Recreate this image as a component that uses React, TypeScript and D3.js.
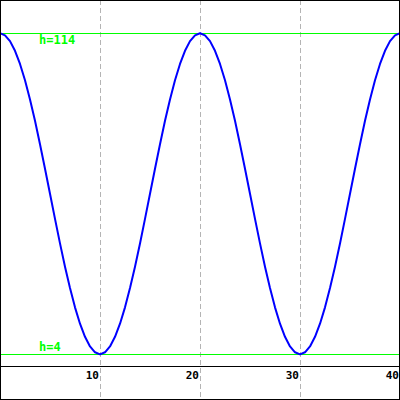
import React from 'react';
import * as d3 from 'd3';

// x values every half step from 0 to 40
const xs: number[] = d3.range(0, 40.5, 0.5);

// height readings along the curve (one per x above)
const heights: number[] = [
    114, 113.3, 111.3, 108.0, 103.5, 97.9, 91.3, 84.0, 76.0, 67.6,
    59, 50.4, 42.0, 34.0, 26.7, 20.1, 14.5, 10.0, 6.7, 4.7,
    4, 4.7, 6.7, 10.0, 14.5, 20.1, 26.7, 34.0, 42.0, 50.4,
    59, 67.6, 76.0, 84.0, 91.3, 97.9, 103.5, 108.0, 111.3, 113.3,
    114, 113.3, 111.3, 108.0, 103.5, 97.9, 91.3, 84.0, 76.0, 67.6,
    59, 50.4, 42.0, 34.0, 26.7, 20.1, 14.5, 10.0, 6.7, 4.7,
    4, 4.7, 6.7, 10.0, 14.5, 20.1, 26.7, 34.0, 42.0, 50.4,
    59, 67.6, 76.0, 84.0, 91.3, 97.9, 103.5, 108.0, 111.3, 113.3,
    114,
];

const xTicks: number[] = [10, 20, 30, 40];
const refLines: number[] = [114, 4];
const refLabels: string[] = ['h=114', 'h=4'];

const W = 400;
const H = 400;
const axisY = 366;
const mono = '"DejaVu Sans Mono", "Liberation Mono", monospace';

const App = () => {
    const x = d3.scaleLinear().domain([0, 40]).range([0, 400]);
    const y = d3.scaleLinear().domain([0, 125.4]).range([axisY, 0]);

    const line = d3.line<number>()
        .x((_, i) => x(xs[i]))
        .y(d => y(d));

    return (
        <svg width={W} height={H} style={{ position: 'fixed', left: 0, top: 0, background: '#fff' }}>
            <rect x={0} y={0} width={W} height={H} fill="#fff" />
            {/* dashed grid */}
            {xTicks.slice(0, 3).map(t => (
                <line key={t} x1={x(t) + 0.5} x2={x(t) + 0.5} y1={0} y2={H}
                    stroke="#b4b4b4" strokeWidth={1} strokeDasharray="5,3" />
            ))}
            {/* reference lines */}
            {refLines.map((v, i) => (
                <g key={v}>
                    <line x1={0} x2={W} y1={Math.round(y(v)) + 0.5} y2={Math.round(y(v)) + 0.5}
                        stroke="#00ff00" strokeWidth={1} />
                    <text x={39} y={i === 0 ? y(v) + 11 : y(v) - 3}
                        fontFamily={mono} fontWeight="bold" fontSize={12} fill="#00ff00">
                        {refLabels[i]}
                    </text>
                </g>
            ))}
            <path d={line(heights) || ''} fill="none" stroke="#0000ff" strokeWidth={2} strokeLinejoin="round" />
            {/* axis */}
            <line x1={0} x2={W} y1={axisY + 0.5} y2={axisY + 0.5} stroke="#000" />
            {xTicks.map(t => (
                <text key={t} x={x(t) - 1} y={379} textAnchor="end"
                    fontFamily={mono} fontWeight="bold" fontSize={11} fill="#000">
                    {t}
                </text>
            ))}
            <rect x={0.5} y={0.5} width={W - 1} height={H - 1} fill="none" stroke="#000" />
        </svg>
    );
};

export default App;
